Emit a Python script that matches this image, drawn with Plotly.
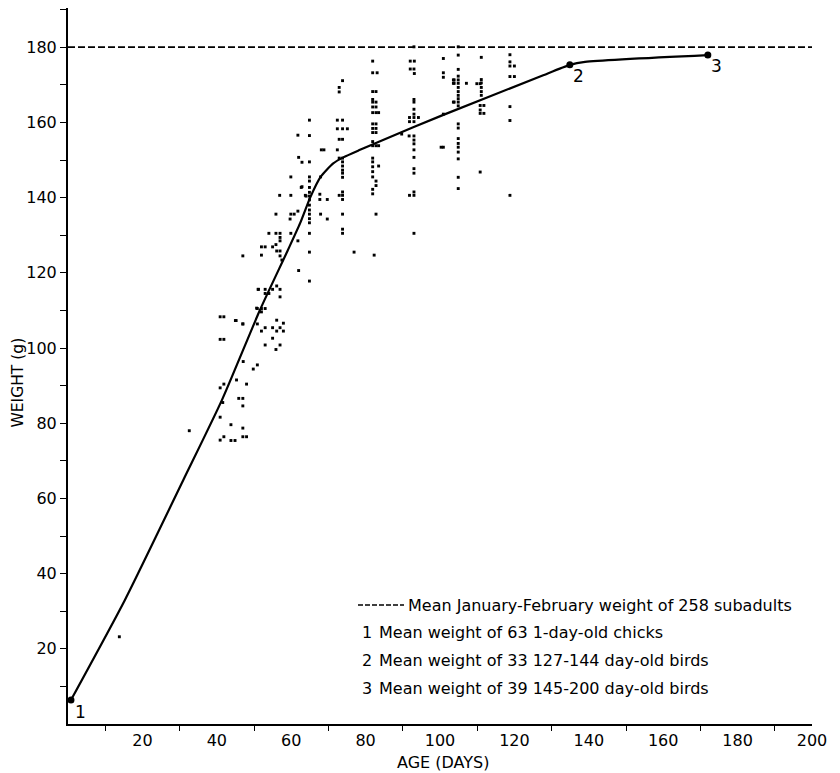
import plotly.graph_objects as go

# ---------------- data ----------------
# individual bird weights (age in days, weight in g)
ages = [
    13.8,
    32.6, 40.9, 41.9, 40.9, 41.9, 40.9, 41.9, 41.6, 40.9, 43.8, 40.9, 41.9, 43.8, 44.9,
    45.2, 47.0, 45.9, 47.0, 47.0, 47.0, 47.0, 48.0, 45.3, 48.0, 47.1, 49.8, 50.9,
    45.0, 47.0, 50.9, 50.7, 51.2, 50.9, 52.0, 53.0, 52.0, 52.0, 53.0,
    55.0, 56.1, 57.0, 57.9, 57.9, 56.1, 55.0, 53.0, 55.9, 57.0,
    51.1, 53.0, 53.0, 55.0, 56.1, 57.0, 57.0, 54.0,
    52.0, 53.0, 55.9, 55.0, 56.1, 57.0, 57.0, 57.5, 47.0, 52.0,
    54.0, 55.9, 57.0, 57.0, 57.0, 59.9, 61.8, 62.0,
    55.9, 59.9, 60.8, 59.7, 61.8, 56.9, 59.9, 63.8, 64.0,
    62.7, 62.9, 59.9, 62.0, 62.9, 61.8,
    64.9, 64.9, 64.9, 64.9, 64.9, 64.9, 64.9, 64.9, 64.9, 64.9, 64.9, 64.9, 64.9, 64.9,
    64.9, 64.9, 64.9,
    67.9, 67.7, 67.7, 69.7, 67.9, 69.7, 68.1, 68.8,
    72.4, 73.8, 72.4, 73.8, 75.1, 72.9, 73.8, 72.4, 73.8, 72.9, 72.9,
    73.8, 72.9, 73.8, 73.8, 73.8, 73.8, 73.8, 72.9, 73.8, 73.8, 73.8, 73.8, 73.8, 73.8,
    76.9,
    81.9, 81.9, 83.1, 81.9, 82.8, 81.9, 81.9, 82.8, 81.9, 82.8, 81.9, 82.8, 83.5,
    81.9, 82.8, 81.9, 82.8, 81.9, 82.8, 81.9, 81.9, 82.8, 83.5,
    81.9, 81.9, 81.9, 83.5, 81.9, 81.9, 82.8, 82.8, 81.9, 81.9, 82.8, 82.3,
    93.0, 92.0, 93.1, 92.0, 93.0, 93.1, 93.0, 93.0, 93.0, 93.0, 91.8, 93.0, 94.2, 91.8, 93.0,
    91.7, 93.0, 93.0, 93.0, 93.0, 93.0, 93.0, 93.0, 93.0, 91.8, 93.0, 93.0, 89.7,
    100.9, 100.9, 100.9, 100.9, 100.9, 100.3,
    103.8, 103.8, 103.8,
    104.9, 104.9, 104.9, 104.9, 104.9, 103.6, 104.9, 103.6, 107.1, 104.9, 104.9, 104.9,
    104.9, 104.9, 103.6, 104.9, 104.9, 104.9, 104.9, 104.9, 104.9, 104.9, 104.9, 104.9,
    104.9,
    111.1, 111.1, 111.1, 109.9, 110.8, 111.1, 111.1, 111.1, 110.8, 111.8, 110.8, 110.8,
    111.8, 110.8,
    118.8, 118.8, 118.8, 120.0, 118.8, 120.0, 118.8, 118.8, 118.8,
]
weights = [
    23.2,
    78.0, 108.3, 108.3, 102.3, 102.3, 89.4, 90.4, 85.5, 81.6, 79.6, 75.5, 76.4, 75.4, 75.4,
    107.3, 106.4, 86.6, 86.6, 84.6, 78.7, 76.4, 76.4, 91.5, 90.4, 96.4, 94.4, 95.5,
    107.3, 106.4, 106.4, 110.6, 115.6, 110.5, 110.5, 110.5, 109.6, 104.5, 105.4,
    105.4, 104.5, 105.4, 106.6, 104.5, 107.4, 102.6, 100.8, 99.6, 100.8,
    115.6, 115.6, 114.5, 115.6, 116.5, 115.6, 113.6, 114.5,
    126.9, 126.9, 127.5, 126.9, 125.8, 125.8, 124.5, 123.4, 124.5, 124.7,
    130.5, 130.5, 130.5, 129.4, 128.5, 130.5, 128.5, 120.6,
    135.6, 135.6, 135.6, 134.3, 136.4, 140.6, 140.6, 140.6, 140.4,
    142.7, 142.9, 145.5, 150.7, 149.4, 156.6,
    160.6, 156.5, 149.5, 145.5, 144.4, 142.7, 141.4, 140.4, 139.4, 138.0, 136.7, 135.6, 134.4, 133.3,
    130.5, 125.5, 117.8,
    145.5, 140.9, 139.5, 139.5, 135.6, 134.3, 152.7, 152.7,
    160.6, 160.6, 158.3, 158.3, 158.3, 155.5, 155.5, 152.7, 171.1, 169.3, 168.1,
    150.5, 150.5, 149.5, 148.4, 147.3, 146.5, 145.4, 140.6, 141.5, 140.6, 139.5, 135.6, 131.6, 130.5,
    125.5,
    176.3, 173.2, 173.2, 168.2, 168.2, 166.1, 165.4, 165.4, 164.1, 164.1, 162.6, 162.6, 162.6,
    159.6, 159.6, 158.4, 158.4, 157.3, 157.3, 154.9, 153.8, 153.8, 153.8,
    150.5, 149.5, 148.2, 148.4, 146.9, 145.5, 144.4, 143.2, 142.2, 141.0, 135.6, 124.7,
    180.1, 176.3, 176.3, 174.2, 174.2, 173.0, 166.1, 165.4, 163.5, 162.2, 161.3, 161.3, 161.3, 160.2, 160.2,
    156.4, 156.4, 155.3, 154.3, 152.7, 150.7, 147.7, 146.5, 141.5, 140.6, 140.6, 130.5, 156.9,
    177.0, 173.2, 172.0, 162.2, 153.4, 153.4,
    171.3, 170.4, 165.4,
    180.1, 177.9, 174.1, 172.3, 171.3, 171.3, 170.4, 170.4, 170.4, 169.3, 168.2, 167.2,
    166.3, 165.4, 165.4, 164.4, 159.6, 158.5, 155.7, 154.4, 153.4, 152.1, 150.3, 145.4,
    142.4,
    177.3, 171.4, 170.5, 170.3, 170.3, 169.3, 168.2, 167.2, 164.5, 164.5, 163.3, 162.4,
    162.4, 146.8,
    178.0, 176.1, 175.0, 175.0, 172.2, 172.2, 164.2, 160.5, 140.6,
]

# fitted mean growth curve
curve_age = [0.8, 15.3, 31.0, 41.4, 51.6, 59.0, 62.4, 65.1, 67.9, 71.3, 74.0, 78.5,
             83.9, 100.9, 126.9, 134.9, 139.0, 172.0]
curve_weight = [6.4, 33.0, 64.9, 86.2, 110.1, 125.8, 133.2, 140.0, 145.5, 149.1, 150.7, 152.7,
                155.0, 162.0, 172.2, 175.3, 176.1, 177.9]

# numbered group means
mean_labels = ["1", "2", "3"]
mean_age = [0.8, 134.9, 172.0]
mean_weight = [6.4, 175.3, 177.9]

# mean January-February weight of subadults
subadult_mean = 180.0
x_range = [0, 200]

legend_lines = [
    "Mean January-February weight of 258 subadults",
    "Mean weight of 63 1-day-old chicks",
    "Mean weight of 33 127-144 day-old birds",
    "Mean weight of 39 145-200 day-old birds",
]

x_ticks = [20, 40, 60, 80, 100, 120, 140, 160, 180, 200]
x_minor = [10, 30, 50, 70, 90, 110, 130, 150, 170, 190]
y_ticks = [20, 40, 60, 80, 100, 120, 140, 160, 180]
y_minor = [10, 30, 50, 70, 90, 110, 130, 150, 170, 190]

# ---------------- figure ----------------
FONT = "DejaVu Sans"
OFF = 8                      # browser default body margin
W, H = 840 - OFF, 773 - OFF
# target page pixels: plot left 68, right 812, top 8, bottom 724
ML = 68 - OFF
MR = W - (812 - OFF)
MT = 0
MB = H - (724 - OFF)
PW, PH = W - ML - MR, H - MT - MB
Y_TOP = PH / 3.76


def px2paper(px, py):
    """page pixel -> paper coordinates"""
    fx, fy = px - OFF, py - OFF
    return (fx - ML) / PW, (H - MB - fy) / PH


fig = go.Figure()

fig.add_trace(go.Scatter(
    x=x_range, y=[subadult_mean, subadult_mean], mode="lines",
    line=dict(color="black", width=1.8, dash="7px,3px"),
    hoverinfo="skip", cliponaxis=False))

fig.add_trace(go.Scatter(
    x=ages, y=weights, mode="markers",
    marker=dict(symbol="square", size=2.9, color="black", line=dict(width=0)),
    cliponaxis=False))

fig.add_trace(go.Scatter(
    x=curve_age, y=curve_weight, mode="lines",
    line=dict(color="black", width=2.2, shape="spline", smoothing=0.6),
    cliponaxis=False))

fig.add_trace(go.Scatter(
    x=mean_age, y=mean_weight, mode="markers",
    marker=dict(symbol="circle", size=7, color="black"),
    cliponaxis=False))

LEG_SIZE = 16
annotations = []
# number labels next to the mean points
offsets = [(10, -12), (9, -11), (9, -11)]
for lab, xa, ya, (dx, dy) in zip(mean_labels, mean_age, mean_weight, offsets):
    annotations.append(dict(x=xa, y=ya, xref="x", yref="y", text=lab, showarrow=False,
                            xshift=dx, yshift=dy, font=dict(family=FONT, size=17, color="black")))

# legend text block
lx, ly = px2paper(406, 605)
annotations.append(dict(x=lx, y=ly, xref="paper", yref="paper", text=legend_lines[0],
                        xanchor="left", yanchor="middle", showarrow=False,
                        font=dict(family=FONT, size=LEG_SIZE, color="black")))
for i, (num, pyy) in enumerate(zip(mean_labels, [632, 660, 688])):
    nx, ny = px2paper(360, pyy)
    tx, _ = px2paper(377, pyy)
    annotations.append(dict(x=nx, y=ny, xref="paper", yref="paper", text=num,
                            xanchor="left", yanchor="middle", showarrow=False,
                            font=dict(family=FONT, size=LEG_SIZE, color="black")))
    annotations.append(dict(x=tx, y=ny, xref="paper", yref="paper", text=legend_lines[i + 1],
                            xanchor="left", yanchor="middle", showarrow=False,
                            font=dict(family=FONT, size=LEG_SIZE, color="black")))

# axis titles
yx, yy = px2paper(17.5, 383)
annotations.append(dict(x=yx, y=yy, xref="paper", yref="paper", text="WEIGHT (g)",
                        textangle=-90, showarrow=False, xanchor="center", yanchor="middle",
                        borderpad=0,
                        font=dict(family=FONT, size=15.5, color="black")))
ax_, ay_ = px2paper(443, 762)
annotations.append(dict(x=ax_, y=ay_, xref="paper", yref="paper", text="AGE (DAYS)",
                        showarrow=False, xanchor="center", yanchor="middle", borderpad=0,
                        font=dict(family=FONT, size=16, color="black")))

sx0, sy0 = px2paper(358, 605)
sx1, _ = px2paper(404, 605)
shapes = [dict(type="line", xref="paper", yref="paper", x0=sx0, x1=sx1, y0=sy0, y1=sy0,
               line=dict(color="black", width=1.6, dash="5px,2px"))]

fig.update_layout(
    width=W, height=H,
    margin=dict(l=ML, r=MR, t=MT, b=MB, pad=0, autoexpand=False),
    paper_bgcolor="white", plot_bgcolor="white",
    showlegend=False,
    annotations=annotations,
    shapes=shapes,
    font=dict(family=FONT, color="black"),
    xaxis=dict(
        range=x_range, showgrid=False, zeroline=False, automargin=False,
        showline=True, linecolor="black", linewidth=2,
        tickmode="array", tickvals=x_ticks, ticktext=[str(v) for v in x_ticks],
        ticks="", ticklabelstandoff=1,
        minor=dict(tickmode="array", tickvals=x_minor, ticks="outside", ticklen=5,
                   tickwidth=1, tickcolor="black"),
        tickfont=dict(family=FONT, size=16, color="black"),
    ),
    yaxis=dict(
        range=[0, Y_TOP], showgrid=False, zeroline=False, automargin=False,
        showline=True, linecolor="black", linewidth=2,
        tickmode="array", tickvals=y_ticks, ticktext=[str(v) for v in y_ticks],
        ticks="outside", ticklen=6, tickwidth=1, tickcolor="black",
        minor=dict(tickmode="array", tickvals=y_minor, ticks="outside", ticklen=6,
                   tickwidth=1, tickcolor="black"),
        tickfont=dict(family=FONT, size=16, color="black"),
        ticklabelstandoff=0,
    ),
)

fig.write_html("out.html")
